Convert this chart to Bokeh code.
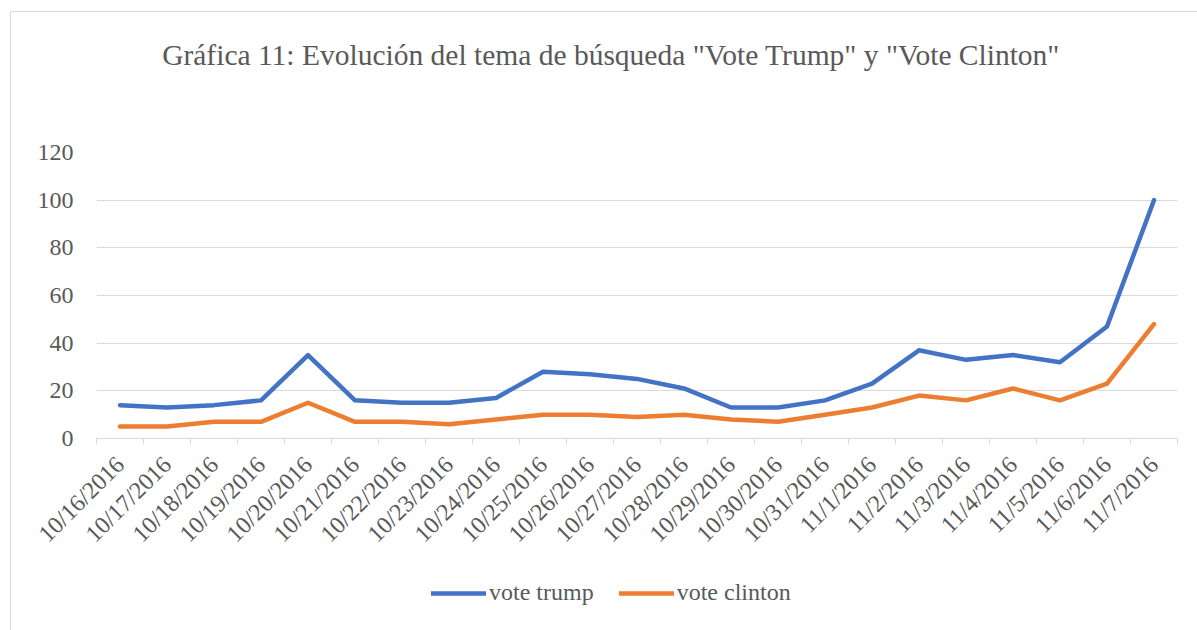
from bokeh.plotting import figure
from bokeh.layouts import column
from bokeh.models import ColumnDataSource, FixedTicker, Range1d, Legend, LegendItem, Label
from bokeh.embed import file_html
from bokeh.resources import INLINE
import math

dates = ["10/16/2016", "10/17/2016", "10/18/2016", "10/19/2016", "10/20/2016", "10/21/2016",
         "10/22/2016", "10/23/2016", "10/24/2016", "10/25/2016", "10/26/2016", "10/27/2016",
         "10/28/2016", "10/29/2016", "10/30/2016", "10/31/2016", "11/1/2016", "11/2/2016",
         "11/3/2016", "11/4/2016", "11/5/2016", "11/6/2016", "11/7/2016"]
vote_trump = [14, 13, 14, 16, 35, 16, 15, 15, 17, 28, 27, 25, 21, 13, 13, 16, 23, 37, 33, 35, 32, 47, 100]
vote_clinton = [5, 5, 7, 7, 15, 7, 7, 6, 8, 10, 10, 9, 10, 8, 7, 10, 13, 18, 16, 21, 16, 23, 48]
y_ticks = [0, 20, 40, 60, 80, 100, 120]
series_names = ["vote trump", "vote clinton"]
series_colors = ["#4472C4", "#ED7D31"]
title_text = 'Gráfica 11: Evolución del tema de búsqueda "Vote Trump" y "Vote Clinton"'

FONT = "Liberation Serif"
TXT = "#595959"
GRID = "#d9d9d9"
W = 1187


def strip(h):
    f = figure(width=W, height=h, output_backend="svg", toolbar_location=None,
               x_range=Range1d(0, W), y_range=Range1d(0, h),
               x_axis_location=None, y_axis_location=None,
               min_border_left=0, min_border_right=0, min_border_top=0, min_border_bottom=0)
    f.grid.visible = False
    f.outline_line_color = None
    f.background_fill_color = "white"
    f.border_fill_color = "white"
    return f


# title strip
tf = strip(90)
tf.add_layout(Label(x=565, y=48, text=title_text, text_font=FONT, text_font_size="29.5px",
                    text_color=TXT, text_align="center", text_baseline="middle"))

# main chart
n = len(dates)
idx = list(range(n))
src = ColumnDataSource(dict(x=idx, trump=vote_trump, clinton=vote_clinton))

p = figure(frame_width=1081, frame_height=286, output_backend="svg", toolbar_location=None,
           x_range=Range1d(-0.5, n - 0.5), y_range=Range1d(0, 120),
           min_border_left=85, min_border_right=21, min_border_top=50, min_border_bottom=140)
p.outline_line_color = None
p.background_fill_color = "white"
p.border_fill_color = "white"

p.line("x", "trump", source=src, line_color=series_colors[0], line_width=4.5, line_cap="round", line_join="round")
p.line("x", "clinton", source=src, line_color=series_colors[1], line_width=4.5, line_cap="round", line_join="round")

xa = p.xaxis[0]
xa.ticker = FixedTicker(ticks=idx, minor_ticks=[i - 0.5 for i in range(n + 1)])
xa.major_label_overrides = {i: d for i, d in enumerate(dates)}
xa.major_label_orientation = math.pi / 4
xa.major_tick_out = 0
xa.major_tick_in = 0
xa.minor_tick_out = 6
xa.minor_tick_in = 0
xa.minor_tick_line_color = GRID
xa.axis_line_color = GRID
xa.major_label_text_font = FONT
xa.major_label_text_font_size = "24px"
xa.major_label_text_color = TXT
xa.major_label_standoff = 16

ya = p.yaxis[0]
ya.ticker = FixedTicker(ticks=y_ticks)
ya.axis_line_color = None
ya.major_tick_line_color = None
ya.minor_tick_line_color = None
ya.major_label_text_font = FONT
ya.major_label_text_font_size = "24px"
ya.major_label_text_color = TXT
ya.major_label_standoff = 17

p.xgrid.grid_line_color = None
p.ygrid.grid_line_color = GRID
p.ygrid.grid_line_width = 1
p.ygrid.ticker = FixedTicker(ticks=y_ticks)

# legend strip
lf = strip(52)
items = []
for name, col in zip(series_names, series_colors):
    r = lf.line(x=[-10, -10], y=[-10, -10], line_color=col, line_width=4.5, line_cap="round")
    items.append(LegendItem(label=name, renderers=[r]))
legend = Legend(items=items, location=(335, 24), orientation="horizontal",
                label_text_font=FONT, label_text_font_size="24px", label_text_color=TXT,
                glyph_width=55, glyph_height=20, label_standoff=3, spacing=25,
                padding=0, margin=0, border_line_color=None, background_fill_alpha=0)
lf.add_layout(legend, "center")

layout = column(tf, p, lf, spacing=0, margin=(11, 0, 0, 10),
                styles={"border": "1px solid #d9d9d9", "background": "white"})

open("out.html", "w").write(file_html(layout, INLINE))
